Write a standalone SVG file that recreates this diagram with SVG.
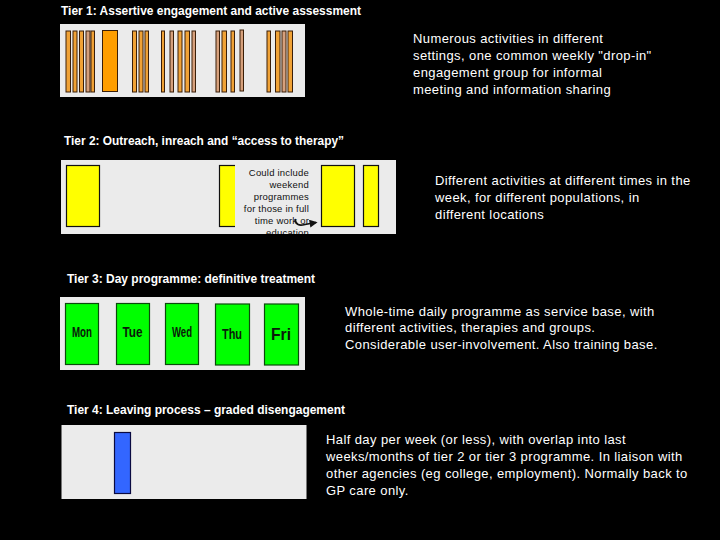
<svg xmlns="http://www.w3.org/2000/svg" width="720" height="540" viewBox="0 0 720 540">
<style>
.title{font-family:"Liberation Sans",Arial,sans-serif;font-weight:bold;font-size:12.5px;fill:#fff}
.desc{font-family:"Liberation Sans",Arial,sans-serif;font-size:13px;letter-spacing:0.4px;fill:#fff}
.panel{fill:#ebebeb}
.o{fill:#f0a236;stroke:#3a1e08;stroke-width:1}
.t{fill:#d6a07c;stroke:#3a1e08;stroke-width:1}
.big{fill:#ff9e00;stroke:#3a1e08;stroke-width:1}
.y{fill:#ffff00;stroke:#111;stroke-width:1.2}
.g{fill:#00ff00;stroke:#0b4a0b;stroke-width:1.2}
.day{font-family:"Liberation Sans",Arial,sans-serif;font-weight:bold;fill:#0a1a0a;text-anchor:middle}
.note{font-family:"Liberation Sans",Arial,sans-serif;font-size:9.5px;letter-spacing:0.2px;fill:#111;text-anchor:end}
</style>
<defs>
<marker id="ah" viewBox="0 0 10 10" refX="8" refY="5" markerWidth="5" markerHeight="5" orient="auto">
<path d="M0,0 L10,5 L0,10 z" fill="#111"/>
</marker>
<clipPath id="p2clip"><rect x="61" y="160" width="335" height="74"/></clipPath>
</defs>
<rect width="720" height="540" fill="#000"/>

<g id="tier1">
<text class="title" x="61" y="15" textLength="300" lengthAdjust="spacingAndGlyphs">Tier 1: Assertive engagement and active assessment</text>
<rect class="panel" x="60" y="24" width="245" height="73"/>
<rect class="o" x="66" y="31" width="4.5" height="61"/>
<rect class="o" x="73" y="31" width="4" height="61"/>
<rect class="o" x="79.5" y="31" width="4" height="61"/>
<rect class="t" x="86" y="31" width="4" height="61"/>
<rect class="o" x="91" y="31" width="3.5" height="61"/>
<rect class="big" x="102.5" y="30.5" width="15" height="61"/>
<rect class="o" x="132.5" y="31" width="4" height="61"/>
<rect class="o" x="139" y="31" width="4" height="61"/>
<rect class="o" x="145" y="31" width="3.5" height="61"/>
<rect class="o" x="161.5" y="31" width="3" height="61"/>
<rect class="t" x="170" y="31" width="3.5" height="61"/>
<rect class="o" x="178" y="31" width="4" height="61"/>
<rect class="o" x="185" y="31" width="4.5" height="61"/>
<rect class="t" x="192" y="31" width="3.5" height="61"/>
<rect class="t" x="216" y="31" width="3.5" height="61"/>
<rect class="o" x="222" y="31" width="4.5" height="61"/>
<rect class="o" x="231" y="31" width="3.5" height="61"/>
<rect class="t" x="240" y="30" width="3.5" height="61"/>
<rect class="o" x="267" y="31" width="3.5" height="61"/>
<rect class="o" x="275.5" y="31" width="4.5" height="61"/>
<rect class="t" x="282" y="31" width="4" height="61"/>
<rect class="o" x="288" y="31" width="4.5" height="61"/>
<text class="desc" x="413" y="43">Numerous activities in different</text>
<text class="desc" x="413" y="60">settings, one common weekly "drop-in"</text>
<text class="desc" x="413" y="77">engagement group for informal</text>
<text class="desc" x="413" y="94">meeting and information sharing</text>
</g>

<g id="tier2">
<text class="title" x="64" y="145" textLength="280" lengthAdjust="spacingAndGlyphs">Tier 2: Outreach, inreach and “access to therapy”</text>
<rect class="panel" x="61" y="160" width="335" height="74"/>
<rect class="y" x="66.5" y="165.5" width="33" height="61"/>
<rect class="y" x="219.5" y="165.5" width="33" height="61"/>
<rect class="y" x="321.5" y="165.5" width="33" height="61"/>
<rect class="y" x="363.5" y="165.5" width="15" height="61"/>
<g clip-path="url(#p2clip)">
<rect class="panel" x="235" y="162" width="78" height="74"/>
<text class="note" x="309" y="176">Could include</text>
<text class="note" x="309" y="188">weekend</text>
<text class="note" x="309" y="200">programmes</text>
<text class="note" x="309" y="212">for those in full</text>
<text class="note" x="309" y="224">time work or</text>
<text class="note" x="309" y="236">education</text>
</g>
<text class="desc" x="435" y="185">Different activities at different times in the</text>
<text class="desc" x="435" y="202">week, for different populations, in</text>
<text class="desc" x="435" y="219">different locations</text>
</g>

<g id="tier3">
<text class="title" x="67" y="283" textLength="248" lengthAdjust="spacingAndGlyphs">Tier 3: Day programme: definitive treatment</text>
<rect class="panel" x="60" y="297" width="245" height="73"/>
<rect class="g" x="65.5" y="303.5" width="33" height="61"/>
<rect class="g" x="116.5" y="303.5" width="33" height="61"/>
<rect class="g" x="165.5" y="303.5" width="33" height="61"/>
<rect class="g" x="215.5" y="304" width="34" height="61"/>
<rect class="g" x="264.5" y="304" width="34" height="61"/>
<text class="day" x="82" y="337" font-size="14" textLength="20" lengthAdjust="spacingAndGlyphs">Mon</text>
<text class="day" x="132.5" y="337" font-size="14" textLength="20" lengthAdjust="spacingAndGlyphs">Tue</text>
<text class="day" x="182" y="337" font-size="14" textLength="20" lengthAdjust="spacingAndGlyphs">Wed</text>
<text class="day" x="232" y="339" font-size="15" textLength="20" lengthAdjust="spacingAndGlyphs">Thu</text>
<text class="day" x="281" y="339.5" font-size="17" textLength="20" lengthAdjust="spacingAndGlyphs">Fri</text>
<text class="desc" x="345" y="316">Whole-time daily programme as service base, with</text>
<text class="desc" x="345" y="332">different activities, therapies and groups.</text>
<text class="desc" x="345" y="349">Considerable user-involvement. Also training base.</text>
</g>

<g id="tier4">
<text class="title" x="67" y="414" textLength="278" lengthAdjust="spacingAndGlyphs">Tier 4: Leaving process – graded disengagement</text>
<rect class="panel" x="61.5" y="425" width="245" height="74"/>
<rect x="114.5" y="432.5" width="16" height="61" fill="#3366ff" stroke="#0a0a40" stroke-width="1.2"/>
<text class="desc" x="326" y="444">Half day per week (or less), with overlap into  last</text>
<text class="desc" x="326" y="461">weeks/months of tier 2 or tier 3 programme. In liaison with</text>
<text class="desc" x="326" y="478">other agencies (eg college, employment). Normally back to</text>
<text class="desc" x="326" y="495">GP care only.</text>
</g>

<g id="connectors">
<path d="M295,219 C296,225 299,226 305,224.5 L316,222.5" fill="none" stroke="#111" stroke-width="1.6" marker-end="url(#ah)"/>
</g>
</svg>
